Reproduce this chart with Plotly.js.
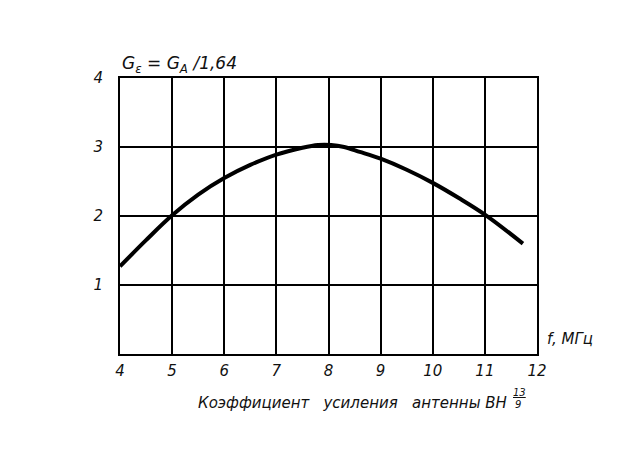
<!DOCTYPE html>
<html>
<head>
<meta charset="utf-8">
<script src="https://cdn.plot.ly/plotly-3.0.1.min.js"></script>
<style>html,body{margin:0;padding:0;background:#fff;}#chart{width:624px;height:461px;}</style>
</head>
<body>
<div id="chart"></div>
<script>
// Data
const freqMHz = [4, 4.5, 5, 5.5, 6, 6.5, 7, 7.5, 7.8, 8.05, 8.3, 8.6, 9, 9.5, 10, 10.5, 11, 11.73];
const gain    = [1.27, 1.65, 2.01, 2.31, 2.55, 2.74, 2.89, 2.99, 3.03, 3.03, 3.0, 2.93, 2.83, 2.67, 2.48, 2.26, 2.02, 1.6];
const xTicks = [4, 5, 6, 7, 8, 9, 10, 11, 12];
const yTicks = [1, 2, 3, 4];

const fnt = {family: "DejaVu Sans", size: 15, color: "#111", style: "italic"};

const trace = {
  x: freqMHz, y: gain, type: "scatter", mode: "lines",
  line: {color: "#000", width: 4, shape: "spline", smoothing: 1},
  hoverinfo: "skip"
};

const layout = {
  width: 624, height: 461,
  margin: {l: 120, r: 87, t: 78, b: 107},
  paper_bgcolor: "#fff", plot_bgcolor: "#fff",
  showlegend: false,
  xaxis: {
    range: [4, 12], tickvals: xTicks, ticktext: xTicks.map(String),
    showgrid: true, gridcolor: "#000", gridwidth: 2,
    showline: true, linecolor: "#000", linewidth: 2, mirror: true,
    zeroline: false, ticks: "", tickfont: fnt, ticklabelstandoff: 2
  },
  yaxis: {
    range: [0, 4], tickvals: yTicks, ticktext: yTicks.map(String),
    showgrid: true, gridcolor: "#000", gridwidth: 2,
    showline: true, linecolor: "#000", linewidth: 2, mirror: true,
    zeroline: false, ticks: "", tickfont: fnt, ticklabelstandoff: 12
  },
  annotations: [
    {xref: "paper", yref: "paper", x: 0.0, y: 1.0, xanchor: "left", yanchor: "bottom", yshift: 0,
     text: "G<sub>ε</sub> = G<sub>A</sub> /1,64", showarrow: false,
     font: {family: "DejaVu Sans", size: 17, color: "#111", style: "italic"}},
    {xref: "paper", yref: "paper", x: 1.0, y: 0.0, xanchor: "left", yanchor: "bottom", xshift: 8, yshift: 4,
     text: "f, МГц", showarrow: false,
     font: {family: "DejaVu Sans", size: 15, color: "#111", style: "italic"}},
    {xref: "paper", yref: "paper", x: 0.0, y: 0.0, xanchor: "left", yanchor: "top", yshift: -38, xshift: 76,
     text: "Коэффициент   усиления   антенны ВН", showarrow: false,
     font: {family: "DejaVu Sans", size: 15, color: "#111", style: "italic"}},
    {xref: "paper", yref: "paper", x: 0.0, y: 0.0, xanchor: "left", yanchor: "top", yshift: -31, xshift: 391,
     text: "<u>13</u>", showarrow: false,
     font: {family: "DejaVu Sans", size: 10, color: "#111", style: "italic"}},
    {xref: "paper", yref: "paper", x: 0.0, y: 0.0, xanchor: "left", yanchor: "top", yshift: -43, xshift: 393,
     text: "9", showarrow: false,
     font: {family: "DejaVu Sans", size: 10, color: "#111", style: "italic"}}
  ]
};

Plotly.newPlot("chart", [trace], layout, {staticPlot: true, displayModeBar: false});
</script>
</body>
</html>
